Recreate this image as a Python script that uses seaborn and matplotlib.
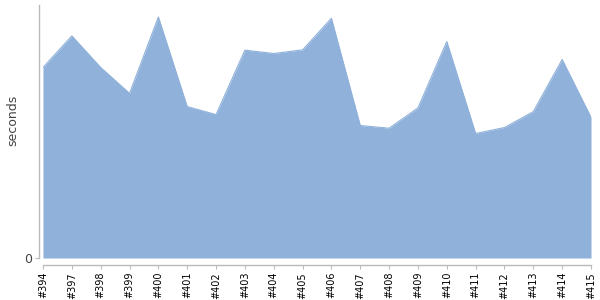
import matplotlib
matplotlib.use("Agg")
import matplotlib.pyplot as plt
import seaborn as sns
import pandas as pd

builds = ["#394", "#397", "#398", "#399", "#400", "#401", "#402", "#403", "#404", "#405",
          "#406", "#407", "#408", "#409", "#410", "#411", "#412", "#413", "#414", "#415"]
seconds = [191.3, 223.0, 191.3, 165.3, 242.0, 152.0, 144.0, 208.7, 205.3, 209.0,
           240.7, 133.0, 130.3, 150.7, 217.3, 125.0, 131.0, 147.0, 199.3, 141.3]

sns.set_theme(style="white")
plt.rcParams['font.family'] = ['DejaVu Sans']

df = pd.DataFrame({"build": builds, "seconds": seconds})
df["pos"] = range(len(df))

fig = plt.figure(figsize=(6, 3), dpi=100)
ax = fig.add_axes([43/600, 1 - 258/300, (591-43)/600, (258-5)/300])

fill_color = "#8fb1da"
sns.lineplot(data=df, x="pos", y="seconds", ax=ax, color=fill_color, linewidth=0.8)
ax.fill_between(df["pos"], 0, df["seconds"], color=fill_color, linewidth=0)

ax.set_xlim(0, len(df) - 1)
ax.set_ylim(0, 254)
ax.set_xticks(df["pos"])
ax.set_xticklabels(df["build"])
ax.set_yticks([0])
ax.set_yticklabels(["0"])
ax.set_xlabel("")
ax.set_ylabel("seconds", fontsize=9, color="#444444")
ax.yaxis.set_label_coords(-24/548, 0.545)

for s in ["top", "right"]:
    ax.spines[s].set_visible(False)
ax.spines["left"].set_position(("outward", 3))
ax.spines["bottom"].set_position(("outward", 5))
for s in ["left", "bottom"]:
    ax.spines[s].set_color("#bbbbbb")
    ax.spines[s].set_linewidth(1)

ax.tick_params(axis="x", which="both", bottom=True, length=3, width=0.8, color="#bbbbbb",
               pad=2, labelrotation=90, labelsize=7, labelcolor="black")
ax.tick_params(axis="y", which="both", left=True, length=3, width=0.8, color="#bbbbbb",
               pad=2, labelsize=9, labelcolor="#444444")

fig.savefig("out.png", dpi=100)
